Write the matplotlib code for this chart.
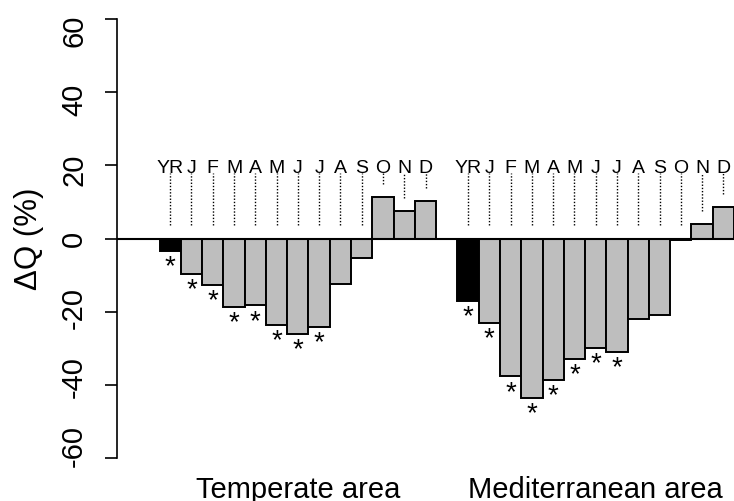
import numpy as np
import matplotlib
matplotlib.use("Agg")
import matplotlib.pyplot as plt
from matplotlib.transforms import blended_transform_factory

plt.rcParams['font.family'] = ['Liberation Sans', 'DejaVu Sans']
plt.rcParams['axes.unicode_minus'] = False

# month labels (YR = whole year)
labels = ['YR', 'J', 'F', 'M', 'A', 'M', 'J', 'J', 'A', 'S', 'O', 'N', 'D']
groups = ['Temperate area', 'Mediterranean area']
yticks = [-60, -40, -20, 0, 20, 40, 60]

# change in discharge (%)
temperate = [-3.4, -9.8, -12.6, -18.7, -18.3, -23.7, -26.2, -24.3, -12.4, -5.3, 11.4, 7.6, 10.3]
mediterranean = [-17.1, -23.2, -37.7, -43.5, -38.6, -33.0, -29.9, -31.0, -22.0, -20.9, -0.5, 3.9, 8.7]

# significant changes (*)
sig_temperate = [1, 1, 1, 1, 1, 1, 1, 1, 0, 0, 0, 0, 0]
sig_mediterranean = [1, 1, 1, 1, 1, 1, 1, 1, 0, 0, 0, 0, 0]

fig = plt.figure(figsize=(7.34, 5.01), dpi=100)
ax = fig.add_axes([117 / 734, 1 - 458 / 501, 1 - 117 / 734, (458 - 19) / 501])
trans = blended_transform_factory(ax.transData, fig.transFigure)

n = len(labels)
for g, (vals, sig) in enumerate([(temperate, sig_temperate), (mediterranean, sig_mediterranean)]):
    x = np.arange(n) + g * (n + 1)
    colors = ['black'] + ['#BEBEBE'] * (n - 1)
    ax.bar(x, vals, width=1.0, color=colors, edgecolor='black', linewidth=1.4, zorder=2)

    # dotted leaders and month labels
    for xi, v, lab, s in zip(x, vals, labels, sig):
        ax.vlines(xi, max(v, 0) + 3.6, 17.8, colors='black', linewidth=1.0,
                  linestyles=(0, (1, 1.3)), zorder=1)
        ax.text(xi, 17.8, lab, ha='center', va='baseline', fontsize=14)
        if s:
            ax.text(xi, v - 0.9, '*', ha='center', va='top', fontsize=20)

    ax.text(x.mean(), 1 - 498 / 501, groups[g], transform=trans,
            ha='center', va='baseline', fontsize=21, clip_on=False)

ax.axhline(0, color='black', linewidth=1.5, zorder=3)

ax.set_xlim(-2.5, 2 * n + 0.5)
ax.set_ylim(-60, 60)
for sp in ['top', 'right', 'bottom']:
    ax.spines[sp].set_visible(False)
ax.spines['left'].set_linewidth(1.2)
ax.set_xticks([])
ax.set_yticks(yticks)
ax.set_yticklabels([])
ax.tick_params(axis='y', length=8.5, width=1.2)

# tick labels sit slightly closer to zero than the ticks in the original
for t in yticks:
    ax.text(-0.047, t * 0.945, str(t), transform=ax.get_yaxis_transform(),
            rotation=90, ha='right', va='center', fontsize=21, clip_on=False)

fig.text(29 / 734, 1 - 239 / 501, 'ΔQ (%)', rotation=90,
         ha='center', va='center', fontsize=22.5)

fig.savefig('out.png', dpi=100)
